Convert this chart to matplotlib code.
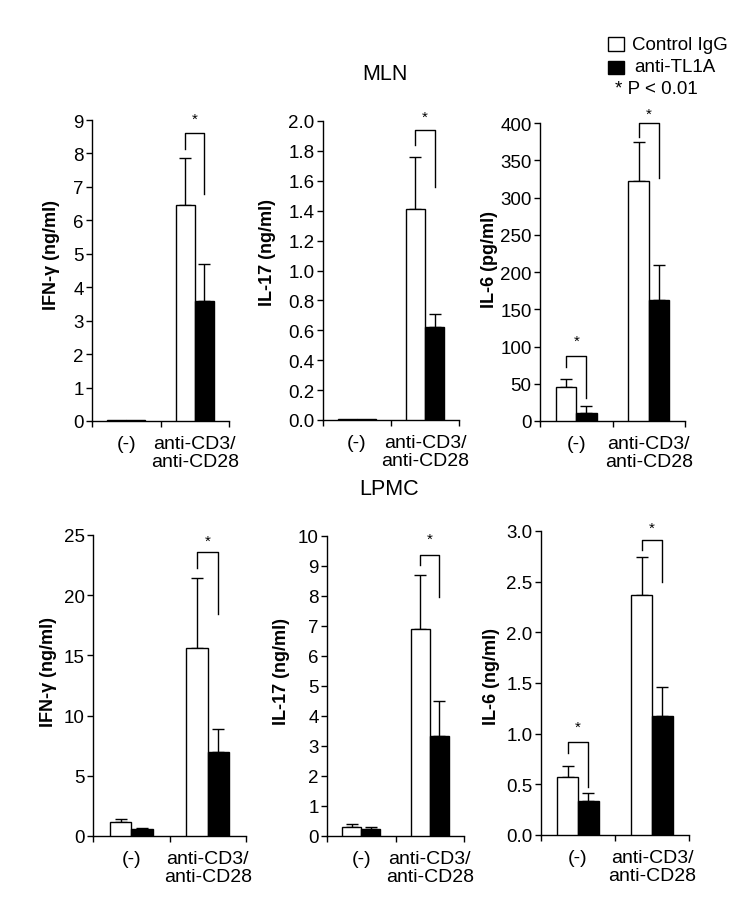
import matplotlib
matplotlib.use("Agg")
import matplotlib.pyplot as plt
from matplotlib.ticker import FormatStrFormatter, MultipleLocator
from matplotlib.patches import Rectangle

plt.rcParams['font.family'] = ['Liberation Sans', 'DejaVu Sans']

categories = ["(-)", "anti-CD3/\nanti-CD28"]

mln_ifng_ctrl = [0.03, 6.45]
mln_ifng_ctrl_err = [0.0, 1.4]
mln_ifng_anti = [0.03, 3.6]
mln_ifng_anti_err = [0.0, 1.1]

mln_il17_ctrl = [0.006, 1.41]
mln_il17_ctrl_err = [0.0, 0.35]
mln_il17_anti = [0.006, 0.62]
mln_il17_anti_err = [0.0, 0.09]

mln_il6_ctrl = [45, 322]
mln_il6_ctrl_err = [12, 53]
mln_il6_anti = [11, 162]
mln_il6_anti_err = [9, 48]

lpmc_ifng_ctrl = [1.15, 15.6]
lpmc_ifng_ctrl_err = [0.3, 5.8]
lpmc_ifng_anti = [0.55, 7.0]
lpmc_ifng_anti_err = [0.14, 1.85]

lpmc_il17_ctrl = [0.31, 6.89]
lpmc_il17_ctrl_err = [0.08, 1.8]
lpmc_il17_anti = [0.22, 3.33]
lpmc_il17_anti_err = [0.08, 1.16]

lpmc_il6_ctrl = [0.577, 2.364]
lpmc_il6_ctrl_err = [0.10, 0.376]
lpmc_il6_anti = [0.336, 1.17]
lpmc_il6_anti_err = [0.08, 0.29]

# significance brackets: (category index, bracket top, left leg bottom, right leg bottom, star y)
mln_ifng_sig = [(1, 8.6, 8.13, 6.78, 9.05)]
mln_il17_sig = [(1, 1.94, 1.84, 1.56, 2.03)]
mln_il6_sig = [(0, 87, 72, 31, 108), (1, 400, 381, 326, 412)]
lpmc_ifng_sig = [(1, 23.6, 22.3, 18.4, 24.5)]
lpmc_il17_sig = [(1, 9.38, 9.02, 7.97, 9.9)]
lpmc_il6_sig = [(0, 0.92, 0.814, 0.478, 1.07), (1, 2.914, 2.81, 2.496, 3.03)]

panels = [
    # (ctrl, ctrl_err, anti, anti_err, sig, ylabel, ymax, ystep, fmt)
    (mln_ifng_ctrl, mln_ifng_ctrl_err, mln_ifng_anti, mln_ifng_anti_err, mln_ifng_sig,
     "IFN-\u03b3 (ng/ml)", 9, 1, '%d'),
    (mln_il17_ctrl, mln_il17_ctrl_err, mln_il17_anti, mln_il17_anti_err, mln_il17_sig,
     "IL-17 (ng/ml)", 2.0, 0.2, '%.1f'),
    (mln_il6_ctrl, mln_il6_ctrl_err, mln_il6_anti, mln_il6_anti_err, mln_il6_sig,
     "IL-6 (pg/ml)", 400, 50, '%d'),
    (lpmc_ifng_ctrl, lpmc_ifng_ctrl_err, lpmc_ifng_anti, lpmc_ifng_anti_err, lpmc_ifng_sig,
     "IFN-\u03b3 (ng/ml)", 25, 5, '%d'),
    (lpmc_il17_ctrl, lpmc_il17_ctrl_err, lpmc_il17_anti, lpmc_il17_anti_err, lpmc_il17_sig,
     "IL-17 (ng/ml)", 10, 1, '%d'),
    (lpmc_il6_ctrl, lpmc_il6_ctrl_err, lpmc_il6_anti, lpmc_il6_anti_err, lpmc_il6_sig,
     "IL-6 (ng/ml)", 3.0, 0.5, '%.1f'),
]

W, H = 750, 912
fig = plt.figure(figsize=(W / 100, H / 100), dpi=100)

# axes boxes in pixels: left, right, top, bottom
boxes = [
    (92, 229, 121, 422),
    (323, 459, 122, 421),
    (540, 685, 124, 422),
    (93, 246, 536, 837),
    (327, 464, 537, 837),
    (541, 689, 532, 836),
]
# y-label centres in pixels
label_pos = [(52, 255), (268, 253), (489, 259), (49, 672), (281, 672), (492, 677)]

bw = 0.28
for (ctrl, ctrl_err, anti, anti_err, sig, ylabel, ymax, ystep, fmt), (l, r, t, b), (lx, ly) in zip(panels, boxes, label_pos):
    ax = fig.add_axes([l / W, 1 - b / H, (r - l) / W, (b - t) / H])
    centers = [0.5, 1.5]
    xc = [c - bw / 2 for c in centers]
    xa = [c + bw / 2 for c in centers]
    ax.bar(xc, ctrl, width=bw, color='white', edgecolor='black', linewidth=1.0, zorder=3)
    ax.bar(xa, anti, width=bw, color='black', edgecolor='black', linewidth=1.0, zorder=3)
    for x, v, e in list(zip(xc, ctrl, ctrl_err)) + list(zip(xa, anti, anti_err)):
        if e > 0:
            ax.errorbar([x], [v], yerr=[[0], [e]], fmt='none', ecolor='black',
                        elinewidth=1.0, capsize=4.3, capthick=1.0, zorder=2, clip_on=False)
    for (ci, top, lb, rb, sy) in sig:
        x0 = centers[ci] - bw / 2
        x1 = centers[ci] + bw / 2
        ax.plot([x0, x0, x1, x1], [lb, top, top, rb], color='black', lw=1.0, clip_on=False)
        ax.text((x0 + x1) / 2, sy, '*', ha='center', va='center', fontsize=11, clip_on=False)
    ax.set_xlim(0, 2)
    ax.set_ylim(0, ymax)
    ax.yaxis.set_major_locator(MultipleLocator(ystep))
    ax.yaxis.set_major_formatter(FormatStrFormatter(fmt))
    ax.set_xticks([0, 1, 2])
    ax.set_xticklabels([])
    ax.set_xticks(centers, minor=True)
    ax.set_xticklabels(categories, minor=True, fontsize=14, linespacing=1.05)
    ax.tick_params(axis='x', which='minor', length=0, pad=10)
    ax.tick_params(axis='x', which='major', length=4, width=1.0, direction='out')
    ax.tick_params(axis='y', length=4, width=1.0, direction='out', labelsize=13.5, pad=2)
    for s in ['top', 'right']:
        ax.spines[s].set_visible(False)
    for s in ['left', 'bottom']:
        ax.spines[s].set_linewidth(1.0)
    fig.text(lx / W, 1 - ly / H, ylabel, rotation=90, ha='center', va='center',
             fontsize=13, fontweight='bold')

fig.text(385 / W, 1 - 75 / H, "MLN", ha='center', va='center', fontsize=15.5)
fig.text(389 / W, 1 - 490 / H, "LPMC", ha='center', va='center', fontsize=15.5)

# legend
fig.patches.append(Rectangle((608 / W, 1 - 52 / H), 16 / W, 14 / H, transform=fig.transFigure,
                             facecolor='white', edgecolor='black', linewidth=1.0))
fig.patches.append(Rectangle((608 / W, 1 - 75 / H), 16 / W, 13 / H, transform=fig.transFigure,
                             facecolor='black', edgecolor='black', linewidth=1.0))
fig.text(632 / W, 1 - 45 / H, "Control IgG", ha='left', va='center', fontsize=13.5)
fig.text(634 / W, 1 - 68 / H, "anti-TL1A", ha='left', va='center', fontsize=13.5)
fig.text(615 / W, 1 - 90 / H, "* P < 0.01", ha='left', va='center', fontsize=13.5)

fig.savefig("out.png", dpi=100, facecolor='white')
